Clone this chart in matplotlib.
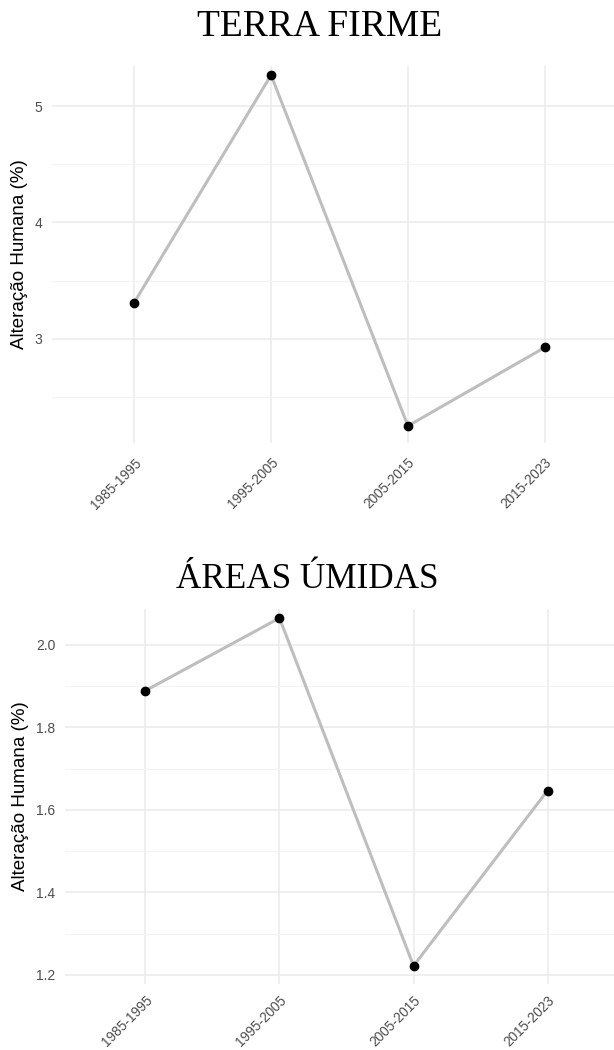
import matplotlib

matplotlib.use('Agg')
import matplotlib.pyplot as plt  # noqa: E402
from matplotlib.ticker import FixedLocator  # noqa: E402

periods = ['1985-1995', '1995-2005', '2005-2015', '2015-2023']
terra_firme = [3.31, 5.267, 2.25, 2.925]
areas_umidas = [1.889, 2.065, 1.222, 1.647]

GRID = '#EBEBEB'
TICK = '#4D4D4D'

fig = plt.figure(figsize=(6.14, 10.5), dpi=100)

panels = [
    # title, values, axes rect, ylim, major, minor, fmt, title x/size, x pad
    ('TERRA FIRME', terra_firme, [52 / 614, 1 - 443 / 1050, 575 / 614, 377 / 1050],
     (2.103, 5.345), [3, 4, 5], [2.5, 3.5, 4.5], '{:.0f}', (320, 27, 39), 9),
    ('ÁREAS ÚMIDAS', areas_umidas, [65 / 614, 1 - 984 / 1050, 563 / 614, 375 / 1050],
     (1.178, 2.087), [1.2, 1.4, 1.6, 1.8, 2.0], [1.3, 1.5, 1.7, 1.9], '{:.1f}', (307, 25.3, 30), 6.5),
]

for title, vals, rect, ylim, major, minor, fmt, tstyle, xpad in panels:
    ax = fig.add_axes(rect)
    x = list(range(len(periods)))
    ax.plot(x, vals, color='#BEBEBE', lw=2.2, zorder=2, solid_capstyle='round')
    ax.plot(x, vals, 'o', color='black', ms=6, zorder=3)

    ax.set_xlim(-0.6, len(periods) - 0.4)
    ax.set_ylim(*ylim)
    ax.set_xticks(x)
    ax.set_xticklabels(periods, rotation=45, ha='right', va='top',
                       rotation_mode='anchor', fontsize=9.8, color=TICK,
                       family='Liberation Sans')
    ax.yaxis.set_major_locator(FixedLocator(major))
    ax.yaxis.set_minor_locator(FixedLocator(minor))
    ax.set_yticklabels([fmt.format(v) for v in major], fontsize=10, color=TICK,
                       family='Liberation Sans')
    ax.tick_params(axis='both', which='both', length=0)
    ax.tick_params(axis='y', pad=7)
    ax.tick_params(axis='x', pad=xpad)

    ax.grid(True, which='major', color=GRID, lw=1.1, zorder=0)
    ax.grid(True, which='minor', axis='y', color='#F4F4F4', lw=0.8, zorder=0)
    ax.set_axisbelow(True)
    for s in ax.spines.values():
        s.set_visible(False)

    ax.set_ylabel('Alteração Humana (%)', fontsize=13.5, family='Liberation Sans',
                  color='black', labelpad=5)

    # title over the panel
    tx, tsize, tgap = tstyle
    title_y = rect[1] + rect[3] + tgap / 1050
    fig.text(tx / 614, title_y, title, ha='center', va='center',
             fontsize=tsize, family='Liberation Serif', color='black')

fig.savefig('out.png', dpi=100, facecolor='white')
